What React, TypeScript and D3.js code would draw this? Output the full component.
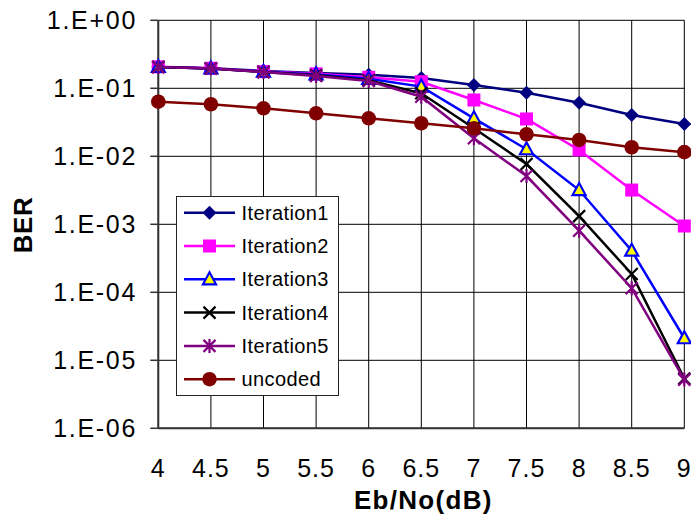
import React from "react";
import * as d3 from "d3";

const ebNo = [4, 4.5, 5, 5.5, 6, 6.5, 7, 7.5, 8, 8.5, 9];
const iteration1 = [0.206, 0.198, 0.18, 0.168, 0.158, 0.142, 0.112, 0.086, 0.0614, 0.0405, 0.0299];
const iteration2 = [0.207, 0.197, 0.176, 0.163, 0.145, 0.125, 0.0673, 0.0354, 0.0124, 0.00319, 0.000944];
const iteration3 = [0.206, 0.196, 0.175, 0.16, 0.138, 0.106, 0.0362, 0.0127, 0.00319, 0.000409, 0.0000211];
const iteration4 = [0.206, 0.196, 0.174, 0.155, 0.131, 0.0844, 0.0258, 0.0077, 0.00132, 0.000186, 0.0000054];
const iteration5 = [0.205, 0.195, 0.173, 0.152, 0.128, 0.0752, 0.0184, 0.00513, 0.000805, 0.000115, 0.0000052];
const uncoded = [0.0635, 0.0582, 0.0508, 0.0429, 0.0362, 0.0306, 0.0258, 0.0211, 0.0174, 0.0136, 0.0115];
const yTicks = [1, 1e-1, 1e-2, 1e-3, 1e-4, 1e-5, 1e-6];
const yTickLabels = ["1.E+00", "1.E-01", "1.E-02", "1.E-03", "1.E-04", "1.E-05", "1.E-06"];

type Marker = "diamond" | "square" | "triangle" | "x" | "star" | "circle";
interface Series { name: string; values: number[]; color: string; marker: Marker; }

const series: Series[] = [
  { name: "Iteration1", values: iteration1, color: "#000080", marker: "diamond" },
  { name: "Iteration2", values: iteration2, color: "#FF00FF", marker: "square" },
  { name: "Iteration3", values: iteration3, color: "#0000FF", marker: "triangle" },
  { name: "Iteration4", values: iteration4, color: "#000000", marker: "x" },
  { name: "Iteration5", values: iteration5, color: "#800080", marker: "star" },
  { name: "uncoded", values: uncoded, color: "#800000", marker: "circle" },
];

const W = 691, H = 519;
const left = 158.3, right = 684.3, top = 20.3, bottom = 428.3;

const x = d3.scaleLinear().domain([4, 9]).range([left, right]);
const y = d3.scaleLog().domain([1, 1e-6]).range([top, bottom]);

function MarkerShape({ kind, color, cx, cy }: { kind: Marker; color: string; cx: number; cy: number }) {
  switch (kind) {
    case "diamond":
      return <path d={`M${cx},${cy - 7}L${cx + 7},${cy}L${cx},${cy + 7}L${cx - 7},${cy}Z`} fill={color} />;
    case "square":
      return <rect x={cx - 6.5} y={cy - 6.5} width={13} height={13} fill={color} />;
    case "triangle":
      return <path d={`M${cx},${cy - 7}L${cx + 6.5},${cy + 5}L${cx - 6.5},${cy + 5}Z`} fill="#FFFF00" stroke={color} strokeWidth={2.2} strokeLinejoin="miter" />;
    case "x":
      return <path d={`M${cx - 6},${cy - 6}L${cx + 6},${cy + 6}M${cx - 6},${cy + 6}L${cx + 6},${cy - 6}`} stroke={color} strokeWidth={2.2} />;
    case "star":
      return <path d={`M${cx - 6},${cy - 6}L${cx + 6},${cy + 6}M${cx - 6},${cy + 6}L${cx + 6},${cy - 6}M${cx},${cy - 7}L${cx},${cy + 7}`} stroke={color} strokeWidth={2.2} />;
    case "circle":
      return <circle cx={cx} cy={cy} r={7.3} fill={color} />;
  }
}

export default function App() {
  const line = d3.line<number>().x((_, i) => x(ebNo[i])).y((v) => y(v));
  const font = "Arial, 'Liberation Sans', sans-serif";
  const legendRows = series.map((s, i) => ({ s, cy: 212.7 + i * 33.3 }));

  return (
    <svg width={W} height={H} style={{ position: "absolute", left: 0, top: 0, background: "#fff" }} fontFamily={font}>
      {/* grid */}
      {yTicks.map((t) => (
        <line key={"h" + t} x1={left} x2={right} y1={y(t)} y2={y(t)} stroke="#000" strokeWidth={1} />
      ))}
      {ebNo.map((v) => (
        <line key={"v" + v} x1={x(v)} x2={x(v)} y1={top} y2={bottom} stroke="#000" strokeWidth={1} />
      ))}
      {/* axes */}
      <line x1={left} x2={left} y1={top} y2={bottom} stroke="#333" strokeWidth={2} />
      <line x1={left} x2={right} y1={bottom} y2={bottom} stroke="#333" strokeWidth={2} />
      {yTicks.map((t) => (
        <line key={"t" + t} x1={left - 8} x2={left} y1={y(t)} y2={y(t)} stroke="#333" strokeWidth={1.5} />
      ))}
      {/* y tick labels */}
      {yTicks.map((t, i) => (
        <text key={"yl" + t} x={137} y={y(t)} dy="0.35em" textAnchor="end" fontSize={25} letterSpacing={1.7} fill="#000">
          {yTickLabels[i]}
        </text>
      ))}
      {/* x tick labels */}
      {ebNo.map((v) => (
        <text key={"xl" + v} x={x(v)} y={477} textAnchor="middle" fontSize={25} letterSpacing={1} fill="#000">
          {String(v)}
        </text>
      ))}
      {/* axis titles */}
      <text x={(left + right) / 2 + 2} y={509} textAnchor="middle" fontSize={26} fontWeight="bold" letterSpacing={1.3} fill="#000">
        Eb/No(dB)
      </text>
      <text transform={`translate(32,225) rotate(-90)`} textAnchor="middle" fontSize={26} fontWeight="bold" letterSpacing={0.5} fill="#000">
        BER
      </text>
      {/* series */}
      {series.map((s) => (
        <g key={s.name}>
          <path d={line(s.values) ?? ""} fill="none" stroke={s.color} strokeWidth={2.5} />
          {s.values.map((v, i) => (
            <MarkerShape key={i} kind={s.marker} color={s.color} cx={x(ebNo[i])} cy={y(v)} />
          ))}
        </g>
      ))}
      {/* legend */}
      <rect x={176.5} y={196.5} width={162} height={199} fill="#fff" stroke="#222" strokeWidth={1} />
      {legendRows.map(({ s, cy }) => (
        <g key={"lg" + s.name}>
          <line x1={184} x2={235} y1={cy} y2={cy} stroke={s.color} strokeWidth={2.5} />
          <MarkerShape kind={s.marker} color={s.color} cx={209.5} cy={cy} />
          <text x={241.5} y={cy} dy="0.35em" fontSize={20} letterSpacing={0.4} fill="#000">
            {s.name}
          </text>
        </g>
      ))}
    </svg>
  );
}
